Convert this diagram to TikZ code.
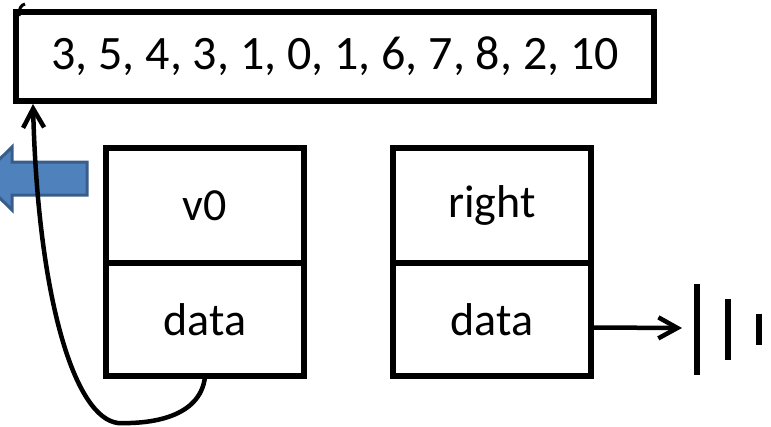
\documentclass[tikz,border=0pt]{standalone}
\usepackage{fontspec}
\setmainfont{Carlito}
\usetikzlibrary{arrows.meta}
\definecolor{arrowfill}{HTML}{4F81BD}
\definecolor{arrowedge}{HTML}{385D8A}
\tikzset{
  cell/.style={draw, line width=6pt, inner sep=0pt, font=\fontsize{46}{50}\selectfont},
  listbox/.style={draw, line width=6pt, inner sep=0pt, font=\fontsize{48}{52}\selectfont},
  link/.style={line width=4.5pt, -{Straight Barb[length=19pt,width=21pt,line width=4.5pt]}},
  bar/.style={line width=6pt},
}
\begin{document}
\begin{tikzpicture}[x=1pt, y=-1pt]
\useasboundingbox (0,0) rectangle (771,426);

% list of values
\node[listbox, minimum width=638pt, minimum height=89pt] (list) at (335,56.5) {3, 5, 4, 3, 1, 0, 1, 6, 7, 8, 2, 10};

% node v0
\node[cell, minimum width=198pt, minimum height=115pt] (vname) at (205,205.5) {v0};
\node[cell, minimum width=198pt, minimum height=113pt] (vdata) at (205,319.5) {data};

% node right
\node[cell, minimum width=198pt, minimum height=115pt] (rname) at (492,205.5) {right};
\node[cell, minimum width=198pt, minimum height=113pt] (rdata) at (492,319.5) {data};

% block arrow pointing left
\path[fill=arrowfill, draw=arrowedge, line width=3pt]
  (87,162) -- (12,162) -- (12,147) -- (-20,178.5) -- (12,210) -- (12,195) -- (87,195) -- cycle;

% data of v0 points back to the list
\coordinate (vstart) at (205,377);
\coordinate (listcorner) at (33,104);
\draw[link] (vstart) .. controls (200,418) and (150,424) .. (118,423)
  .. controls (75,418) and (38,300) .. (listcorner);

% small stroke at the list's corner
\draw[line width=3pt] (19,16) .. controls (19,8) and (21,5) .. (25,4);

% data of right points to ground
\coordinate (gnd) at (682,328);
\draw[link] ([yshift=-8pt]rdata.east) -- (gnd);
\draw[bar] (697,284) -- (697,375);
\draw[bar] (728,299) -- (728,360);
\draw[bar] (759,314) -- (759,345);
\end{tikzpicture}
\end{document}
